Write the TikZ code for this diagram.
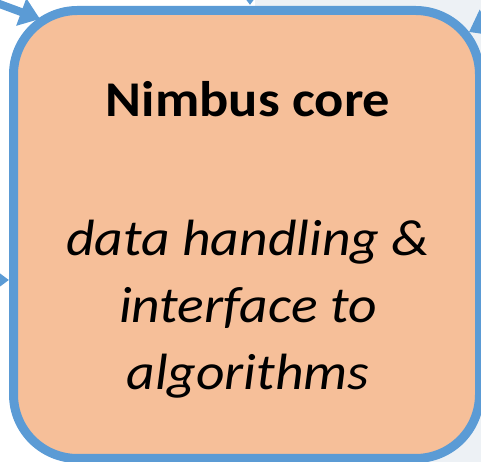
\documentclass[tikz,border=0pt]{standalone}
\usepackage{fontspec}
\setmainfont{Carlito}[FakeStretch=1.09]
\usetikzlibrary{arrows.meta,positioning}
\definecolor{corefill}{HTML}{F6BF99}
\definecolor{coreline}{HTML}{5B9BD5}
\definecolor{groupbg}{HTML}{EDF1F5}
\tikzset{
  corebox/.style={rectangle, rounded corners=64pt, draw=coreline, fill=corefill,
    line width=9pt, inner sep=0pt, minimum width=466pt, minimum height=448pt},
  feed/.style={draw=coreline, line width=8pt, -{Triangle[length=20pt,width=28pt]}},
  title/.style={font=\fontsize{50}{60}\selectfont\bfseries, anchor=base, inner sep=0pt},
  descr/.style={font=\fontsize{51}{67}\selectfont\itshape, align=center, inner sep=0pt}
}
\begin{document}
\begin{tikzpicture}[x=1pt, y=1pt]
\useasboundingbox (0,0) rectangle (481,462);

% group background on the right
\fill[groupbg] (255,0) rectangle (490,470);

\node(core)[corebox] at (246.5,227.5) {};
\node(name)[title] at (248,345) {Nimbus core};
\node(what)[descr, below=102pt of name] {data handling \&\\interface to\\algorithms};

% incoming arrows, cut by the page edge
\coordinate (tl-src) at (-14,463);
\coordinate (tl-tip) at (40,443);
\coordinate (t-src)  at (250,500);
\coordinate (t-tip)  at (250,457);
\coordinate (tr-src) at (510,452);
\coordinate (tr-tip) at (469,430);
\coordinate (l-src)  at (-40,182);
\coordinate (l-tip)  at (9,182);
\draw[feed] (tl-src) -- (tl-tip);
\draw[feed] (t-src) -- (t-tip);
\draw[feed] (tr-src) -- (tr-tip);
\draw[feed] (l-src) -- (l-tip);

\end{tikzpicture}
\end{document}
